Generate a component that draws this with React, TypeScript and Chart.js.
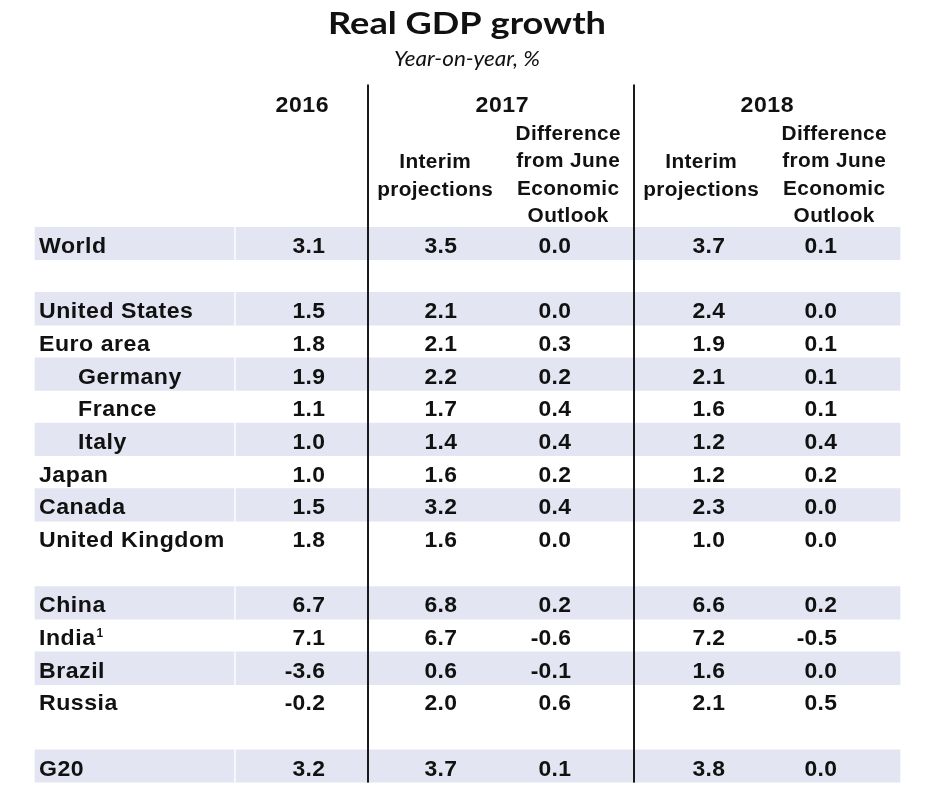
import React, { useEffect, useRef } from 'react';
import { Chart, registerables } from 'chart.js';

Chart.register(...registerables);

// ---------- data ----------
const titleText = 'Real GDP growth';
const subtitleText = 'Year-on-year, %';

const rowLabels = [
  'World', '', 'United States', 'Euro area', 'Germany', 'France', 'Italy', 'Japan', 'Canada',
  'United Kingdom', '', 'China', 'India', 'Brazil', 'Russia', '', 'G20',
];
const indentedRows = ['Germany', 'France', 'Italy'];
const shadedRows = ['World', 'United States', 'Germany', 'Italy', 'Canada', 'China', 'Brazil', 'G20'];
const footnoteMarks: Record<string, string> = { India: '1' };

const gdp2016 = [3.1, null, 1.5, 1.8, 1.9, 1.1, 1.0, 1.0, 1.5, 1.8, null, 6.7, 7.1, -3.6, -0.2, null, 3.2];
const proj2017 = [3.5, null, 2.1, 2.1, 2.2, 1.7, 1.4, 1.6, 3.2, 1.6, null, 6.8, 6.7, 0.6, 2.0, null, 3.7];
const diff2017 = [0.0, null, 0.0, 0.3, 0.2, 0.4, 0.4, 0.2, 0.4, 0.0, null, 0.2, -0.6, -0.1, 0.6, null, 0.1];
const proj2018 = [3.7, null, 2.4, 1.9, 2.1, 1.6, 1.2, 1.2, 2.3, 1.0, null, 6.6, 7.2, 1.6, 2.1, null, 3.8];
const diff2018 = [0.1, null, 0.0, 0.1, 0.1, 0.1, 0.4, 0.2, 0.0, 0.0, null, 0.2, -0.5, 0.0, 0.5, null, 0.0];

const yearHeaders = ['2016', '2017', '2018'];
const interimHeader = ['Interim', 'projections'];
const diffHeader = ['Difference', 'from June', 'Economic', 'Outlook'];

// ---------- layout (positions / styles) ----------
const W = 942;
const H = 803;
const TEXT = '#111111';
const BAND = '#e3e6f2';
const FONT = '"Liberation Sans", Arial, sans-serif';

const tableLeft = 35;
const labelGapLeft = 234;
const labelGapRight = 236;
const tableRight = 900;
const labelX = 39;
const indentX = 78;
const valueRightEdges = [325, 457, 571, 725, 837];
const dividerXs = [368, 634];
const dividerTop = 84.5;
const yearCenters = [302, 502, 767];
const interimCenters = [435, 701];
const diffCenters = [568, 834];

const valueSeries = [gdp2016, proj2017, diff2017, proj2018, diff2018];

function shadeSegment(lo: number, hi: number) {
  return rowLabels.map((r) => (shadedRows.includes(r) ? [lo, hi] : null));
}

function fitText(ctx: CanvasRenderingContext2D, text: string, cx: number, y: number, font: string, width: number) {
  ctx.save();
  ctx.font = font;
  ctx.textAlign = 'center';
  ctx.textBaseline = 'alphabetic';
  const m = ctx.measureText(text).width;
  ctx.translate(cx, y);
  ctx.scale(width / m, 1);
  ctx.fillText(text, 0, 0);
  ctx.restore();
}

function drawText(
  ctx: CanvasRenderingContext2D,
  text: string,
  x: number,
  y: number,
  font: string,
  align: CanvasTextAlign,
  sx: number,
  spacing: number,
) {
  ctx.save();
  ctx.font = font;
  (ctx as any).letterSpacing = `${spacing}px`;
  ctx.textAlign = 'left';
  ctx.textBaseline = 'alphabetic';
  const w = ctx.measureText(text).width - spacing;
  let x0 = x;
  if (align === 'center') x0 = x - (w * sx) / 2;
  else if (align === 'right') x0 = x - w * sx;
  ctx.translate(x0, y);
  ctx.scale(sx, 1);
  ctx.fillText(text, 0, 0);
  ctx.restore();
  return w * sx;
}

const tablePlugin = {
  id: 'tablePlugin',
  beforeDatasetsDraw(chart: any) {
    const ctx: CanvasRenderingContext2D = chart.ctx;
    ctx.save();
    ctx.fillStyle = '#ffffff';
    ctx.fillRect(0, 0, chart.width, chart.height);
    ctx.restore();
  },
  afterDatasetsDraw(chart: any) {
    const ctx: CanvasRenderingContext2D = chart.ctx;
    const xs = chart.scales.x;
    const ys = chart.scales.y;
    const area = chart.chartArea;
    ctx.save();
    ctx.fillStyle = TEXT;

    // title & subtitle
    fitText(ctx, titleText, 467, 33.5, `bold 31px Lato, "Open Sans", sans-serif`, 278);
    fitText(ctx, subtitleText, 467, 66, `italic 21px Lato, "Open Sans", sans-serif`, 146);

    // column headers
    const f22 = `bold 22px ${FONT}`;
    const f20 = `bold 20px ${FONT}`;
    yearHeaders.forEach((t, i) => drawText(ctx, t, xs.getPixelForValue(yearCenters[i]), 111.5, f22, 'center', 1.05, 0.5));
    interimCenters.forEach((cx) => {
      interimHeader.forEach((t, k) => drawText(ctx, t, xs.getPixelForValue(cx), 167.8 + k * 27.7, f20, 'center', 1.04, 0.35));
    });
    diffCenters.forEach((cx) => {
      diffHeader.forEach((t, k) => drawText(ctx, t, xs.getPixelForValue(cx), 140 + k * 27.4, f20, 'center', 1.04, 0.35));
    });

    // rows
    rowLabels.forEach((label, i) => {
      if (!label) return;
      const cy = ys.getPixelForValue(i);
      const base = cy + 9.6;
      const lx = xs.getPixelForValue(indentedRows.includes(label) ? indentX : labelX);
      const w = drawText(ctx, label, lx, base, f22, 'left', 1.05, 0.5);
      const mark = footnoteMarks[label];
      if (mark) {
        drawText(ctx, mark, lx + w + 1.5, base - 8.5, `bold 12px ${FONT}`, 'left', 1, 0);
      }
      valueSeries.forEach((series, c) => {
        const v = series[i];
        if (v === null || v === undefined) return;
        drawText(ctx, v.toFixed(1), xs.getPixelForValue(valueRightEdges[c]), base, f22, 'right', 1.04, 0.3);
      });
    });

    // vertical dividers
    ctx.fillStyle = '#1a1a1a';
    dividerXs.forEach((dx) => {
      const px = xs.getPixelForValue(dx);
      ctx.fillRect(px - 1, dividerTop, 2, area.bottom - dividerTop);
    });
    ctx.restore();
  },
};

export default function App() {
  const canvasRef = useRef<HTMLCanvasElement | null>(null);

  useEffect(() => {
    if (!canvasRef.current) return;
    const chart = new Chart(canvasRef.current, {
      type: 'bar',
      data: {
        labels: rowLabels,
        datasets: [
          {
            data: shadeSegment(tableLeft, labelGapLeft) as any,
            backgroundColor: BAND,
            borderWidth: 0,
            barPercentage: 1,
            categoryPercentage: 1,
            grouped: false,
          },
          {
            data: shadeSegment(labelGapRight, tableRight) as any,
            backgroundColor: BAND,
            borderWidth: 0,
            barPercentage: 1,
            categoryPercentage: 1,
            grouped: false,
          },
        ],
      },
      options: {
        indexAxis: 'y',
        animation: false,
        responsive: true,
        maintainAspectRatio: false,
        layout: { padding: { top: 227, bottom: H - 782.6, left: 0, right: 0 } },
        scales: {
          x: { type: 'linear', min: 0, max: W, display: false },
          y: { type: 'category', display: false, offset: true },
        },
        plugins: {
          legend: { display: false },
          tooltip: { enabled: false },
          title: { display: false },
        },
      },
      plugins: [tablePlugin],
    });
    return () => chart.destroy();
  }, []);

  return (
    <div style={{ position: 'fixed', left: 0, top: 0, width: W, height: H, background: '#fff' }}>
      <canvas ref={canvasRef} />
    </div>
  );
}
